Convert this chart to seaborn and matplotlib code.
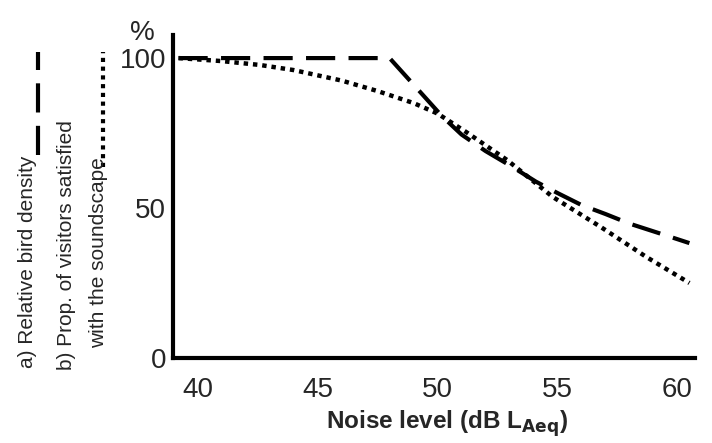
import numpy as np
import pandas as pd
import matplotlib
matplotlib.use("Agg")
import matplotlib.pyplot as plt
from matplotlib.lines import Line2D
import seaborn as sns

# %% data
noise_bird = [39.2, 48.0, 50.2, 51.0, 52.0, 53.1, 54.1, 55.0, 56.0, 57.0, 58.0, 59.2, 60.5]
bird_density = [100, 100, 80.5, 74.5, 69.0, 63.8, 58.8, 55.0, 51.0, 48.0, 44.8, 41.7, 38.3]

noise_visitors = [39.2, 41.0, 42.6, 44.0, 46.0, 47.5, 49.0, 50.0, 51.2, 52.9, 54.8, 56.8, 58.7, 60.5]
visitors_satisfied = [100, 99.0, 97.7, 96.0, 92.5, 89.0, 85.0, 81.5, 75.3, 66.0, 53.7, 43.7, 33.7, 25.0]

x_ticks = [40, 45, 50, 55, 60]
y_ticks = [0, 50, 100]

df_a = pd.DataFrame({"noise": noise_bird, "value": bird_density})
df_b = pd.DataFrame({"noise": noise_visitors, "value": visitors_satisfied})

# %% plot
sns.set_style("white")
plt.rcParams["font.family"] = ["Liberation Sans", "DejaVu Sans"]

fig = plt.figure(figsize=(7.12, 4.43), dpi=100)
ax = fig.add_axes([0.243, 0.192, 0.733, 0.729])

sns.lineplot(df_a, x="noise", y="value", ax=ax, color="black", lw=3,
             dashes=False, linestyle=(0, (7, 3.2)))
sns.lineplot(df_b, x="noise", y="value", ax=ax, color="black", lw=3.2,
             dashes=False, linestyle=(0, (1, 1.1)))

ax.set_xlim(38.97, 60.73)
ax.set_ylim(0, 107.7)
ax.set_xticks(x_ticks)
ax.set_yticks(y_ticks)
ax.tick_params(axis="both", length=0, labelsize=20)
ax.tick_params(axis="x", pad=14)
ax.tick_params(axis="y", pad=5)
sns.despine(ax=ax)
for side in ["left", "bottom"]:
    ax.spines[side].set_linewidth(3)
    ax.spines[side].set_color("black")

ax.set_xlabel("Noise level (dB L$_{\\mathbf{Aeq}}$)", fontsize=17.5, fontweight="bold")
ax.xaxis.set_label_coords(0.525, -0.155)
ax.set_ylabel("")
fig.text(0.2, 0.925, "%", fontsize=20, ha="center", va="center")

# rotated legend on the left
fig.text(0.039, 0.169, "a) Relative bird density", rotation=90, fontsize=15, ha="center", va="bottom")
fig.text(0.094, 0.165, "b) Prop. of visitors satisfied", rotation=90, fontsize=15, ha="center", va="bottom")
fig.text(0.138, 0.214, "with the soundscape", rotation=90, fontsize=15, ha="center", va="bottom")
fig.add_artist(Line2D([0.053, 0.053], [0.650, 0.883], transform=fig.transFigure,
                      color="black", lw=3, linestyle=(0, (7, 3.2))))
fig.add_artist(Line2D([0.145, 0.145], [0.623, 0.883], transform=fig.transFigure,
                      color="black", lw=3, linestyle=(0, (1, 1.1))))

fig.savefig("out.png", dpi=100)
